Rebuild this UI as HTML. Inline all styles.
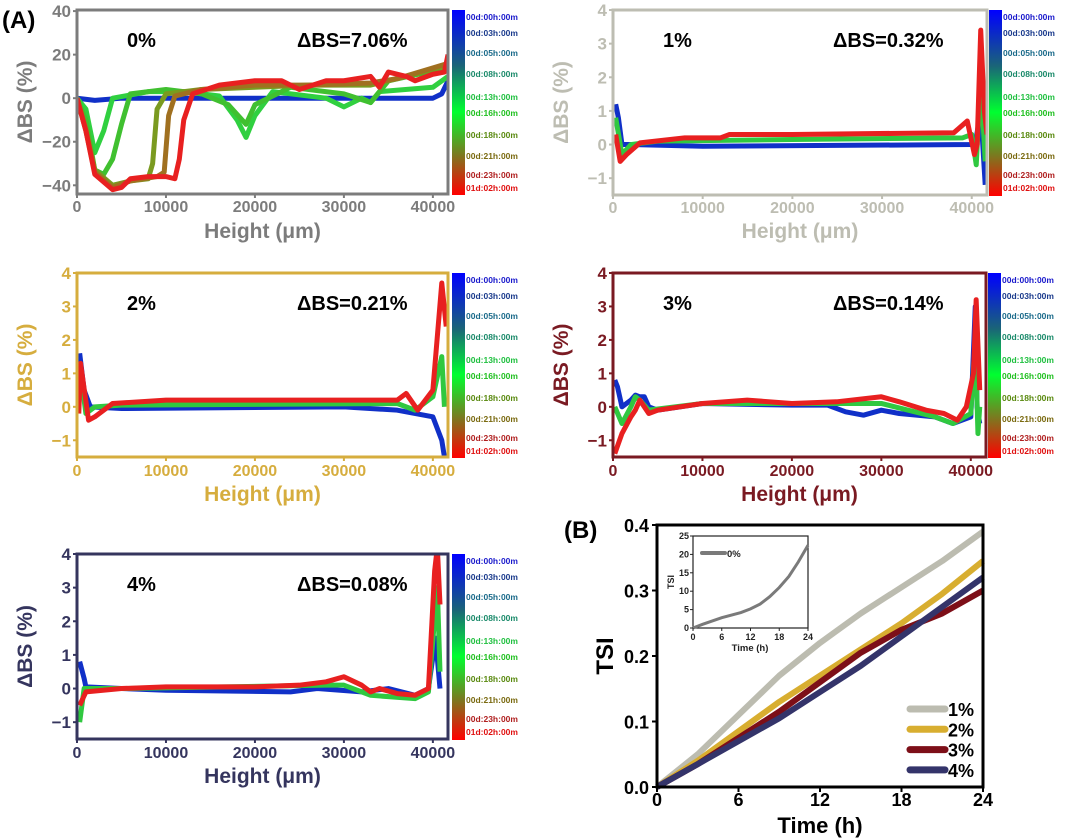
<!DOCTYPE html>
<html><head><meta charset="utf-8">
<style>
html,body{margin:0;padding:0;background:#fff;}
svg{display:block;font-family:"Liberation Sans",Arial,sans-serif;font-weight:bold;}
</style></head>
<body>
<svg id="fig" width="1080" height="839" viewBox="0 0 1080 839" xmlns="http://www.w3.org/2000/svg">
<defs>
<linearGradient id="cb" x1="0" y1="0" x2="0" y2="1">
<stop offset="0" stop-color="#0000ff"/><stop offset="0.3" stop-color="#1a6478"/>
<stop offset="0.55" stop-color="#00ff30"/><stop offset="0.78" stop-color="#7a7a20"/>
<stop offset="1" stop-color="#ff0000"/></linearGradient>
</defs>
<text x="2" y="28" font-size="24" fill="#000">(A)</text>
<text x="564" y="538" font-size="24" fill="#000">(B)</text>
</svg>
<script>
// ---- Panel A data (x in thousands of µm, y in ΔBS %) ----
const p0Blue=[[0,0],[2,-1],[5,0],[20,0],[40,0],[41,2],[41.7,8]];
const p0G13=[[0,0],[1,-5],[2,-25],[3,-15],[4,0],[8,3],[12,3],[16,1],[18,-10],[19,-18],[20,-8],[22,3],[28,0],[30,-4],[32,0],[33,-2],[34,3],[40,5],[41.7,10]];
const p0G16=[[0,0],[1,-10],[2,-33],[3,-35],[4,-28],[5,-12],[6,2],[10,4],[14,2],[17,-3],[19,-12],[20,-3],[24,5],[30,2],[33,-2],[35,8],[41.7,14]];
const p0O18=[[0,0],[1,-14],[2,-33],[4,-40],[6,-38],[8,-37],[8.5,-30],[9,-5],[10,2],[14,4],[20,5],[26,6],[33,6],[36,9],[41.7,15]];
const p0O21=[[0,0],[1,-15],[2,-34],[4,-41],[6,-38],[9,-36],[9.8,-34],[10.3,-8],[11,1],[14,4],[20,6],[26,6],[33,7],[36,9],[41.7,16]];
const p0Red=[[0,0],[1,-15],[2,-35],[4,-42],[5,-41],[6,-37],[8,-36],[10,-36],[11,-37],[11.5,-28],[12,-10],[13,2],[16,6],[20,8],[23,8],[25,4],[28,8],[30,8],[33,10],[34,5],[35,12],[37,10],[38,8],[40,11],[41.3,12],[41.7,20]];
const p1Blue=[[0.3,1.2],[0.6,0.8],[1,0],[2,0],[10,-0.05],[40,0],[40.5,0.2],[41,1],[41.5,-1.2]];
const p1Green=[[0.3,0.8],[1,-0.3],[2,0],[5,0.1],[20,0.15],[39,0.2],[40,0.3],[40.5,-0.6],[41,2],[41.5,-0.5]];
const p1Red=[[0.3,0.3],[0.8,-0.5],[1.5,-0.3],[3,0.05],[8,0.2],[12,0.2],[13,0.3],[20,0.3],[38,0.35],[39.5,0.7],[40.3,-0.3],[40.6,0],[41,3.4],[41.4,1],[41.7,0.3]];
const p2Blue=[[0.3,1.6],[0.8,0.5],[1.5,0],[5,-0.05],[30,0],[36,-0.1],[40,-0.3],[41,-1],[41.3,-1.5]];
const p2Green=[[0.3,1.2],[1,-0.2],[2,0],[5,0.05],[36,0.1],[38,-0.1],[40,0.3],[41,1.5],[41.3,0]];
const p2Red=[[0.2,-0.2],[0.4,1.3],[1.3,-0.4],[2,-0.3],[4,0.1],[10,0.2],[36,0.2],[37,0.4],[38.3,-0.1],[40,0.5],[41,3.7],[41.5,2.4]];
const p3Blue=[[0.2,0.8],[0.5,0.6],[1,0],[2,0.2],[2.5,0.35],[3,0.3],[3.5,0.3],[4,0],[5,-0.1],[10,0.1],[20,0.05],[24,0.05],[26,-0.15],[28,-0.25],[30,-0.1],[32,-0.2],[36,-0.3],[38,-0.5],[40,-0.3],[40.5,3],[40.7,0],[41,-0.5]];
const p3Green=[[0.2,0],[1,-0.5],[2,0],[2.5,0.3],[3,0.2],[4,-0.1],[10,0.1],[20,0.1],[28,0.1],[30,0.1],[33,-0.1],[36,-0.3],[38,-0.5],[40,-0.2],[40.5,2],[40.8,-0.8],[41,0]];
const p3Red=[[0.2,-1.4],[1,-0.8],[2,-0.3],[2.5,-0.1],[3,0.2],[3.5,0],[4,-0.2],[5,-0.1],[10,0.1],[15,0.2],[20,0.1],[25,0.15],[30,0.3],[32,0.15],[35,-0.1],[37,-0.2],[38.5,-0.4],[39.5,0],[40.3,1],[40.6,3.2],[41,0.5]];
const p4Blue=[[0.3,0.8],[0.8,0.3],[1,0.05],[5,0],[10,-0.05],[24,-0.1],[27,0],[32,-0.1],[35,0],[38,-0.2],[39.5,0],[40.3,1.5],[40.8,0]];
const p4Green=[[0.3,-1],[0.8,0],[5,0],[28,0.1],[30,0.1],[33,-0.2],[38,-0.3],[39.5,-0.1],[40.5,3],[40.8,0.5]];
const p4Red=[[0.3,-0.5],[1,-0.1],[5,0],[10,0.05],[20,0.05],[25,0.1],[28,0.2],[30,0.35],[32,0.1],[33,-0.1],[34,0],[36,-0.15],[38,-0.2],[39.5,0],[40.2,3.5],[40.5,4.2],[40.8,2.5]];
const timeLabels=["00d:00h:00m","00d:03h:00m","00d:05h:00m","00d:08h:00m","00d:13h:00m","00d:16h:00m","00d:18h:00m","00d:21h:00m","00d:23h:00m","01d:02h:00m"];
const xTicksA=[0,10000,20000,30000,40000];
const yTicksBig=[40,20,0,-20,-40];
const yTicksSmall=[4,3,2,1,0,-1];
const concLabels=["0%","1%","2%","3%","4%"];
const dbsLabels=["ΔBS=7.06%","ΔBS=0.32%","ΔBS=0.21%","ΔBS=0.14%","ΔBS=0.08%"];
// ---- Panel B data ----
const tsiTime=[0,3,6,9,12,15,18,21,24];
const tsi1=[0,0.05,0.11,0.17,0.22,0.265,0.305,0.345,0.39];
const tsi2=[0,0.04,0.085,0.13,0.17,0.21,0.25,0.295,0.345];
const tsi3=[0,0.035,0.075,0.115,0.16,0.205,0.24,0.265,0.30];
const tsi4=[0,0.035,0.07,0.105,0.145,0.185,0.23,0.275,0.32];
const insetTime=[0,2,6,10,12,14,16,18,20,22,24];
const insetTsi0=[0,1,2.8,4.2,5.2,6.5,8.5,11,14,18,22.5];
const bXTicks=[0,6,12,18,24];
const bYTicks=[0,0.1,0.2,0.3,0.4];
const insetYTicks=[0,5,10,15,20,25];
const legendLabels=["1%","2%","3%","4%"];

const svg=document.getElementById('fig');
const NS="http://www.w3.org/2000/svg";
function mk(tag,attrs,parent){const e=document.createElementNS(NS,tag);for(const k in attrs)e.setAttribute(k,attrs[k]);(parent||svg).appendChild(e);return e;}
function txt(s,attrs,parent){const e=mk('text',attrs,parent);e.textContent=s;return e;}

const panels=[
 {x0:77,x1:448,y0:10,y1:194,ymin:-44,ymax:40.5,col:"#7c7c7c",ticks:yTicksBig,curves:[[p0Blue,"#1030c8"],[p0G13,"#30d040"],[p0G16,"#40c030"],[p0O18,"#7a9a20"],[p0O21,"#a07020"],[p0Red,"#e82020"]],cb:452,tickY:212,titleY:238},
 {x0:613,x1:987,y0:10,y1:195,ymin:-1.5,ymax:4,col:"#bdbdb2",ticks:yTicksSmall,curves:[[p1Blue,"#1030c8"],[p1Green,"#30c840"],[p1Red,"#e82020"]],cb:989,tickY:213,titleY:238},
 {x0:77,x1:448,y0:273,y1:457,ymin:-1.5,ymax:4,col:"#d6ad3e",ticks:yTicksSmall,curves:[[p2Blue,"#1030c8"],[p2Green,"#30c840"],[p2Red,"#e82020"]],cb:452,tickY:476,titleY:501},
 {x0:613,x1:986,y0:273,y1:457,ymin:-1.5,ymax:4,col:"#7a1a22",ticks:yTicksSmall,curves:[[p3Blue,"#1030c8"],[p3Green,"#30c840"],[p3Red,"#e82020"]],cb:988,tickY:476,titleY:501},
 {x0:77,x1:448,y0:554,y1:739,ymin:-1.5,ymax:4,col:"#35355e",ticks:yTicksSmall,curves:[[p4Blue,"#1030c8"],[p4Green,"#30c840"],[p4Red,"#e82020"]],cb:452,tickY:758,titleY:783}
];
const labelOff=[6,22,42,63,86,102,124,145,164,177];
const labelCols=["#1a1acc","#1a3a8c","#1a6a8a","#1a8a6a","#20c040","#20c020","#5a8a10","#7a6a10","#b02020","#e01010"];
panels.forEach((p,i)=>{
 const g=mk('g',{});
 
 
 const sx=v=>p.x0+(v/41.7)*(p.x1-p.x0);
 const sy=v=>p.y1-(v-p.ymin)/(p.ymax-p.ymin)*(p.y1-p.y0);
 const cid='clip'+i;
 const cp=mk('clipPath',{id:cid},g);mk('rect',{x:p.x0,y:p.y0,width:p.x1-p.x0,height:p.y1-p.y0},cp);
 const cg=mk('g',{'clip-path':'url(#'+cid+')'},g);
 p.curves.forEach((c,j)=>{
  const pl=mk('polyline',{points:c[0].map(q=>sx(q[0])+','+sy(q[1])).join(' '),fill:'none',stroke:c[1],'stroke-width':5,'stroke-linejoin':'round'},cg);
  
  
 });
 const fr=mk('rect',{x:p.x0,y:p.y0,width:p.x1-p.x0,height:p.y1-p.y0,fill:'none',stroke:p.col,'stroke-width':3},g);
 
 
 p.ticks.forEach(t=>{const y=sy(t);mk('line',{x1:p.x0-4,x2:p.x0,y1:y,y2:y,stroke:p.col,'stroke-width':2},g);
  const tl=txt(String(t).replace('-','−'),{x:p.x0-6,y:y+6,'font-size':17,fill:p.col,'text-anchor':'end'},g);
  
  });
 xTicksA.forEach(t=>{const x=sx(t/1000);mk('line',{x1:x,x2:x,y1:p.y1,y2:p.y1+4,stroke:p.col,'stroke-width':2},g);
  const tl=txt(String(t),{x:x,y:p.tickY,'font-size':16,fill:p.col,'text-anchor':'middle'},g);
  
  });
 const xt=txt('Height (μm)',{x:(p.x0+p.x1)/2,y:p.titleY,'font-size':21,fill:p.col,'text-anchor':'middle'},g);
 
 
 const ym=(p.y0+p.y1)/2, yx=p.x0-45;
 const yt=txt('ΔBS (%)',{x:yx,y:ym,'font-size':21,fill:p.col,'text-anchor':'middle',transform:'rotate(-90 '+yx+' '+ym+')'},g);
 
 
 const cl=txt(concLabels[i],{x:p.x0+50,y:p.y0+37,'font-size':20,fill:'#000'},g);
 
 
 const dl=txt(dbsLabels[i],{x:p.x0+220,y:p.y0+37,'font-size':20,fill:'#000'},g);
 
 
 const cb=mk('rect',{x:p.cb,y:p.y0,width:13,height:p.y1-p.y0+1,fill:'url(#cb)'},g);
 
 
 timeLabels.forEach((s,k)=>{const t=txt(s,{x:p.cb+14,y:p.y0+labelOff[k]+4,'font-size':8.5,fill:labelCols[k]},g);
  
  });
});

// Panel B
const B={x0:657,x1:983,y0:525,y1:787};
const bx=v=>B.x0+v/24*(B.x1-B.x0);
const by=v=>B.y1-v/0.4*(B.y1-B.y0);
const gb=mk('g',{});


const bcol=["#bcbcb0","#d8ae30","#7d0f18","#34346a"];
[tsi1,tsi2,tsi3,tsi4].forEach((s,j)=>{
 const pl=mk('polyline',{points:s.map((v,k)=>bx(tsiTime[k])+','+by(v)).join(' '),fill:'none',stroke:bcol[j],'stroke-width':6,'stroke-linejoin':'round'},gb);
 
 
});
mk('rect',{x:B.x0,y:B.y0,width:B.x1-B.x0,height:B.y1-B.y0,fill:'none',stroke:'#000','stroke-width':3},gb);
bXTicks.forEach(t=>{const x=bx(t);mk('line',{x1:x,x2:x,y1:B.y1,y2:B.y1+5,stroke:'#000','stroke-width':2},gb);
 const tl=txt(String(t),{x:x,y:806,'font-size':18,fill:'#000','text-anchor':'middle'},gb);
 
 });
bYTicks.forEach(t=>{const y=by(t);mk('line',{x1:B.x0-5,x2:B.x0,y1:y,y2:y,stroke:'#000','stroke-width':2},gb);
 const tl=txt(t.toFixed(1),{x:B.x0-8,y:y+7,'font-size':18,fill:'#000','text-anchor':'end'},gb);
 
 });
const bxt=txt('Time (h)',{x:820,y:833,'font-size':22,fill:'#000','text-anchor':'middle'},gb);


const byt=txt('TSI',{x:613,y:656,'font-size':24,fill:'#000','text-anchor':'middle',transform:'rotate(-90 613 656)'},gb);


legendLabels.forEach((s,j)=>{const y=709+j*20.3;
 const ln=mk('line',{x1:910,x2:945,y1:y,y2:y,stroke:bcol[j],'stroke-width':7,'stroke-linecap':'round'},gb);
 
 
 const t=txt(s,{x:948,y:y+7,'font-size':18,fill:'#000'},gb);
 
 });
// Inset
const I={x0:693,x1:808,y0:536,y1:628};
const ix=v=>I.x0+v/24*(I.x1-I.x0);
const iy=v=>I.y1-v/25*(I.y1-I.y0);
const gi=mk('g',{});


mk('rect',{x:I.x0,y:I.y0,width:I.x1-I.x0,height:I.y1-I.y0,fill:'#fff',stroke:'#222','stroke-width':1.2},gi);
const ipl=mk('polyline',{points:insetTsi0.map((v,k)=>ix(insetTime[k])+','+iy(v)).join(' '),fill:'none',stroke:'#7a7a7a','stroke-width':3},gi);


bXTicks.forEach(t=>{const x=ix(t);mk('line',{x1:x,x2:x,y1:I.y1,y2:I.y1+3,stroke:'#222'},gi);
 const tl=txt(String(t),{x:x,y:640,'font-size':9,fill:'#222','text-anchor':'middle'},gi);
 
 });
insetYTicks.forEach(t=>{const y=iy(t);mk('line',{x1:I.x0-3,x2:I.x0,y1:y,y2:y,stroke:'#222'},gi);
 const tl=txt(String(t),{x:I.x0-4,y:y+3,'font-size':9,fill:'#222','text-anchor':'end'},gi);
 
 });
const ixt=txt('Time (h)',{x:750,y:651,'font-size':9.5,fill:'#222','text-anchor':'middle'},gi);


const iyt=txt('TSI',{x:674,y:582,'font-size':9,fill:'#222','text-anchor':'middle',transform:'rotate(-90 674 582)'},gi);


const ils=mk('line',{x1:702,x2:725,y1:553,y2:553,stroke:'#7a7a7a','stroke-width':4,'stroke-linecap':'round'},gi);


const ilt=txt('0%',{x:727,y:557,'font-size':9.5,fill:'#222'},gi);


</script>
</body></html>
